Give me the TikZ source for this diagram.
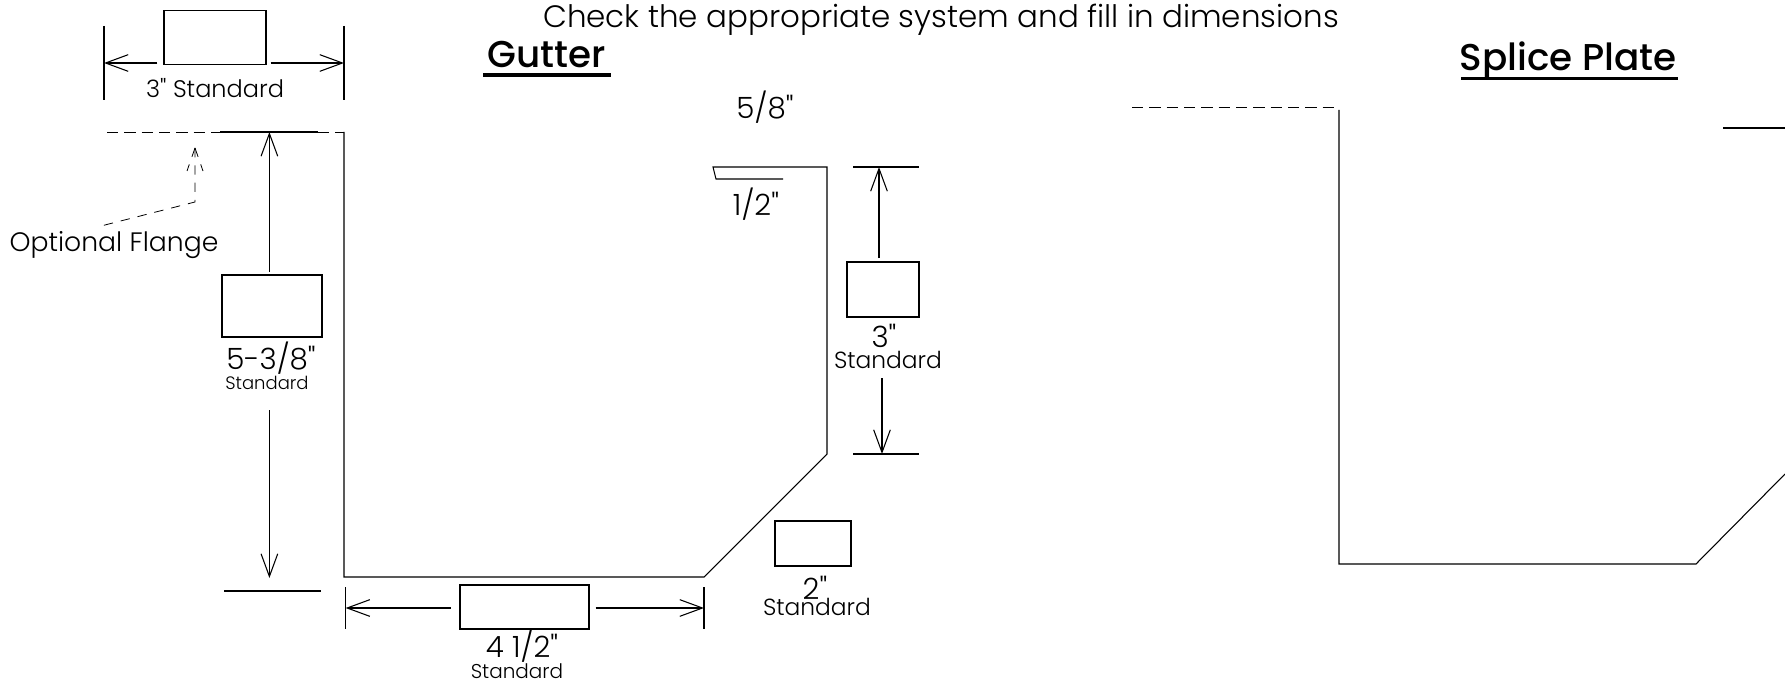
\documentclass[tikz,border=0pt]{standalone}
\usepackage{fontspec}
\newfontfamily\cadfont{Poppins}[UprightFont=* Light,BoldFont=* Medium]
\usetikzlibrary{arrows.meta}
\tikzset{
  dim/.style={-{Straight Barb[length=17pt,width=12.5pt]}},
  blankbox/.style={draw,inner sep=0pt,outer sep=0pt},
  lbl/.style={inner sep=0.75pt,font=\cadfont\fontsize{17.5pt}{19pt}\selectfont},
  biglbl/.style={inner sep=0.75pt,font=\cadfont\fontsize{20pt}{22pt}\selectfont},
  dimlbl/.style={inner sep=0.75pt,font=\cadfont\fontsize{22pt}{24pt}\selectfont},
  smalllbl/.style={inner sep=0.75pt,font=\cadfont\fontsize{13.5pt}{15pt}\selectfont},
  headlbl/.style={inner sep=0.75pt,anchor=base,font=\cadfont\fontsize{28pt}{30pt}\selectfont\bfseries},
  hidden/.style={dash pattern=on 8.5pt off 4.5pt,line width=0.6pt},
  leader/.style={dash pattern=on 7pt off 6pt,line width=0.6pt}
}
\begin{document}
\begin{tikzpicture}[x=0.75pt,y=0.75pt,yscale=-1,xscale=1,line width=0.8pt]
\useasboundingbox (0,0) rectangle (1785,681);
% Gutter profile
\draw (220,132) -- (318,132);
\draw [hidden] (107,132) -- (220,132);
\draw (344,132) -- (344,577) -- (704,577) -- (827,454) -- (827,167) -- (713,167) -- (716,179) -- (783,179);
\draw [hidden] (318,132) -- (344,132);
% Splice plate profile
\draw [hidden] (1132,107) -- (1340,107);
\draw (1339,110) -- (1339,564) -- (1696,564) -- (1785,474);
\draw (1723,128) -- (1785,128);
% entry boxes
\node [blankbox,minimum width=76.5pt,minimum height=40.5pt] (widthbox) at (215,37.2) {};
\node [blankbox,minimum width=75pt,minimum height=46.5pt] (depthbox) at (272,306) {};
\node [blankbox,minimum width=96.75pt,minimum height=33pt] (basebox) at (524.5,607) {};
\node [blankbox,minimum width=54pt,minimum height=41.25pt] (backbox) at (883,289.5) {};
\node [blankbox,minimum width=57pt,minimum height=33.75pt] (slopebox) at (813,543.5) {};
% extension lines
\draw (104,26) coordinate (wl) -- (104,100);
\draw (344,26) coordinate (wr) -- (344,100);
\draw (224,591) -- (321,591);
\draw (345.6,587) -- (345.6,629);
\draw (704,587) -- (704,629);
\draw (853,167) -- (919,167);
\draw (853,454) -- (919,454);
\coordinate (wtipl) at (104,63);
\coordinate (wtipr) at (344,63);
\coordinate (dtipt) at (269.4,132);
\coordinate (dtipb) at (269.4,578);
\coordinate (btipl) at (345.6,608);
\coordinate (btipr) at (704,608);
\coordinate (rtipt) at (879,167);
\coordinate (rtipb) at (882,454);
% dimension arrows
\draw [dim,shorten <=5pt] (widthbox.west |- wtipl) -- (wtipl);
\draw [dim,shorten <=3.5pt] (widthbox.east |- wtipr) -- (wtipr);
\draw [dim,shorten <=2.5pt] (depthbox.north -| dtipt) -- (dtipt);
\coordinate (dstart) at (269.4,410);
\draw [dim] (dstart) -- (dtipb);
\draw [dim,shorten <=7pt] (basebox.west |- btipl) -- (btipl);
\draw [dim,shorten <=5pt] (basebox.east |- btipr) -- (btipr);
\draw [dim,shorten <=3pt] (backbox.north -| rtipt) -- (rtipt);
\coordinate (rstart) at (882,378);
\draw [dim] (rstart) -- (rtipb);
% optional flange leader
\coordinate (ftip) at (195,148);
\coordinate (fknee) at (195,202);
\coordinate (fend) at (101,226);
\draw [leader] (ftip) -- (fknee) -- (fend);
\draw [leader] (ftip) -- (187,171);
\draw [leader] (ftip) -- (203,171);
% labels
\draw (941,19.5) node [inner sep=0.75pt,font=\cadfont\fontsize{23.2pt}{25pt}\selectfont] (note) {Check the appropriate system and fill in dimensions};
\draw (547,68) node [headlbl] (gutter) {Gutter};
\draw (1568,71) node [headlbl] (splice) {Splice Plate};
\draw [line width=2.6pt] (483,75) -- (611,75);
\draw [line width=2.6pt] (1461,78.5) -- (1678,78.5);
\draw (215,88) node [inner sep=0.75pt,font=\cadfont\fontsize{18pt}{19pt}\selectfont] (widthlbl) {3" Standard};
\draw (114,245.5) node [biglbl] (flangelbl) {Optional Flange};
\draw (271,358) node [dimlbl] (depthlbl) {5-3/8"};
\draw (267,383) node [smalllbl] (depthstd) {Standard};
\draw (765,107) node [dimlbl] (lipa) {5/8"};
\draw (756,204) node [dimlbl] (lipb) {1/2"};
\draw (884,336) node [dimlbl] (backlbl) {3"};
\draw (888,360) node [lbl] (backstd) {Standard};
\draw (815,588) node [dimlbl] (slopelbl) {2"};
\draw (817,607) node [lbl] (slopestd) {Standard};
\draw (522,646) node [dimlbl] (baselbl) {4 1/2"};
\draw (517,671.5) node [inner sep=0.75pt,font=\cadfont\fontsize{15pt}{16pt}\selectfont] (basestd) {Standard};
\end{tikzpicture}
\end{document}
